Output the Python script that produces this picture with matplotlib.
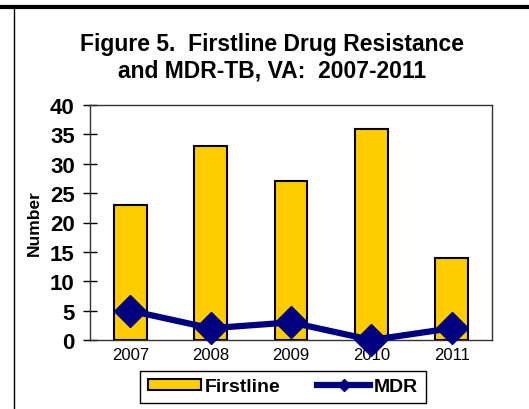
import numpy as np
import matplotlib.pyplot as plt
from matplotlib.lines import Line2D

plt.rcParams['font.family'] = ['Liberation Sans', 'DejaVu Sans']

# dane
years = ['2007', '2008', '2009', '2010', '2011']
firstline = [23, 33, 27, 36, 14]
mdr = [5, 2, 3, 0, 2]

fig = plt.figure(figsize=(5.29, 4.10), dpi=100)
ax = fig.add_axes([90 / 529, 1 - 341 / 410, 402 / 529, 235 / 410])

x = np.arange(len(years))
ax.bar(x, firstline, width=0.41, color='#FFCC00', edgecolor='black', linewidth=1.5,
       label='Firstline', zorder=2)
ax.plot(x, mdr, color='#000080', linewidth=4.5, marker='D', markersize=16,
        label='MDR', clip_on=False, zorder=3)

ax.set_xlim(-0.5, 4.5)
ax.set_ylim(0, 40)
ax.set_yticks(range(0, 41, 5))
ax.set_xticks(x)
ax.set_xticklabels(years, fontsize=12)
for t in ax.get_yticklabels():
    t.set_fontsize(16)
    t.set_fontweight('bold')
ax.tick_params(axis='y', direction='inout', length=10, width=1, pad=6)
ax.tick_params(axis='x', length=0, pad=5)
for s in ax.spines.values():
    s.set_linewidth(1)
    s.set_color('#333333')
ax.set_ylabel('Number', fontsize=12.5, fontweight='bold', labelpad=6)

fig.text(0.515, 1 - 58 / 410, 'Figure 5.  Firstline Drug Resistance\nand MDR-TB, VA:  2007-2011',
         ha='center', va='center', fontsize=16.5, fontweight='bold', linespacing=1.2)

handles = [plt.Rectangle((0, 0), 1, 1, facecolor='#FFCC00', edgecolor='black', linewidth=1.5),
           Line2D([], [], color='#000080', linewidth=4.5, marker='D', markersize=6)]
leg = fig.legend(handles, ['Firstline', 'MDR'], loc='center', bbox_to_anchor=(283 / 529, 1 - 388 / 410),
                 ncol=2, fancybox=False, edgecolor='black', framealpha=1,
                 prop={'weight': 'bold', 'size': 14}, handlelength=2.7, handleheight=0.55,
                 columnspacing=1.9, handletextpad=0.2, borderpad=0.4, borderaxespad=0)
leg.get_frame().set_linewidth(1)

# ramka rysunku
fig.add_artist(Line2D([0, 1], [1 - 8 / 410, 1 - 8 / 410], color='black', linewidth=3,
                      transform=fig.transFigure))
fig.add_artist(Line2D([14 / 529, 14 / 529], [0, 1 - 8 / 410], color='black', linewidth=1,
                      transform=fig.transFigure))

fig.savefig('out.png', dpi=100)
